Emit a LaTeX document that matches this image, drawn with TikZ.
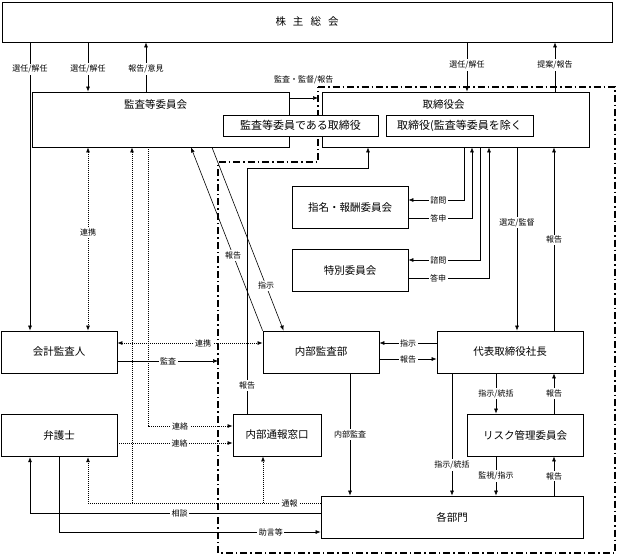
\documentclass[tikz,border=0pt]{standalone}
\usepackage{fontspec}
\setmainfont{Noto Sans CJK JP}
\usetikzlibrary{positioning, arrows.meta, calc}

\begin{document}
\begin{tikzpicture}[x=1pt, y=-1pt,
    >={Latex[length=5pt, width=4pt]},
    every node/.style={font=\fontsize{10.5}{12}\selectfont},
    box/.style={rectangle, draw, line width=0.8pt, fill=white, inner sep=2pt},
    unit/.style={box, minimum width=116pt, minimum height=42pt},
    sbox/.style={box, line width=0.6pt, minimum height=21pt, font=\fontsize{11}{13}\selectfont},
    lbl/.style={fill=white, inner sep=1.5pt, font=\fontsize{8}{9}\selectfont},
    arrow/.style={->, line width=0.6pt},
    dotline/.style={line width=0.7pt, dash pattern=on 1pt off 1pt},
    frame/.style={line width=1.3pt, dash pattern=on 7pt off 3pt on 1.5pt off 3pt}]

  \useasboundingbox (0,0) rectangle (618,555);

  % dash-dot frame round the executive side
  \coordinate (fr1) at (318,87);
  \coordinate (fr2) at (615,87);
  \coordinate (fr3) at (615,553);
  \coordinate (fr4) at (218,553);
  \coordinate (fr5) at (218,162);
  \coordinate (fr6) at (318,162);
  \draw[frame] (fr1) -- (fr2) -- (fr3) -- (fr4) -- (fr5) -- (fr6) -- cycle;

  \node[box, minimum width=610pt, minimum height=40pt] (gm) at (307,22) {株\hspace{7pt}主\hspace{7pt}総\hspace{7pt}会};

  \node[box, minimum width=257pt, minimum height=55pt] (acb) at (160.5,119.5) {};
  \node[below=4pt of acb.north, xshift=-5pt] (acbt) {監査等委員会};
  \node[box, minimum width=267pt, minimum height=55pt] (bod) at (455.5,119.5) {};
  \node[below=5pt of bod.north, xshift=-12pt] (bodt) {取締役会};
  \node[sbox, minimum width=155pt] (sub1) at (300.5,125.5) {監査等委員である取締役};
  \node[sbox, minimum width=147pt] (sub2) at (459.5,125.5) {取締役(監査等委員を除く};

  \node[unit] (nrc) at (350,207.5) {指名・報酬委員会};
  \node[unit, below=20pt of nrc] (sc) {特別委員会};

  \node[unit] (ca) at (59,352) {会計監査人};
  \node[unit, below=41pt of ca] (lawyer) {弁護士};
  \node[unit] (ia) at (321,352) {内部監査部};
  \node[unit, minimum width=146pt] (ceo) at (510,352) {代表取締役社長};
  \node[unit, minimum width=88pt] (hotline) at (277,435) {内部通報窓口};
  \node[unit] (risk) at (525,435) {リスク管理委員会};
  \node[unit, minimum width=262pt] (dept) at (452,517) {各部門};

  \coordinate (j1) at (132,503);
  \coordinate (j2) at (263,503);

  % general meeting
  \draw[arrow] (30,0 |- gm.south) -- node[lbl, pos=0.093] {選任/解任} (30,0 |- ca.north);
  \draw[arrow] (88,0 |- gm.south) -- node[lbl, pos=0.54] {選任/解任} (88,0 |- acb.north);
  \draw[arrow] (146,0 |- acb.north) -- node[lbl, pos=0.46] {報告/意見} (146,0 |- gm.south);
  \draw[arrow] (467,0 |- gm.south) -- node[lbl, pos=0.46] {選任/解任} (467,0 |- bod.north);
  \draw[arrow] (555,0 |- bod.north) -- node[lbl, pos=0.54] {提案/報告} (555,0 |- gm.south);
  \draw[arrow] (acb.east |- 0,98) -- node[lbl, above=12pt] {監査・監督/報告} (fr1 |- 0,98);

  % audit committee
  \draw[dotline, <->] (88,0 |- acb.south) -- node[lbl, pos=0.467] {連携} (88,0 |- ca.north);
  \draw[dotline, ->] (j1) -- (132,0 |- acb.south);
  \draw[dotline, ->] (148,0 |- acb.south) -- (148,426) -- node[lbl, pos=0.38] {連絡} (hotline.west |- 0,426);
  \draw[arrow] (ia.north west) -- node[lbl, pos=0.41] {報告} (191,0 |- acb.south);
  \draw[arrow] (212,0 |- acb.south) -- node[lbl, pos=0.755] {指示} ([xshift=21pt]ia.north west);

  % board
  \draw[arrow] (247,0 |- hotline.north) -- node[lbl, pos=0.114] {報告} (247,168) -- (368,168) -- (368,0 |- bod.south);
  \draw[arrow] (464,0 |- bod.south) -- (464,200) -- node[lbl, pos=0.46] {諮問} (nrc.east |- 0,200);
  \draw[arrow] (nrc.east |- 0,218) -- node[lbl, pos=0.47] {答申} (472,218) -- (472,0 |- bod.south);
  \draw[arrow] (480,0 |- bod.south) -- (480,260) -- node[lbl, pos=0.58] {諮問} (sc.east |- 0,260);
  \draw[arrow] (sc.east |- 0,278) -- node[lbl, pos=0.37] {答申} (489,278) -- (489,0 |- bod.south);
  \draw[arrow] (517,0 |- bod.south) -- node[lbl, pos=0.41] {選定/監督} (517,0 |- ceo.north);
  \draw[arrow] (554,0 |- ceo.north) -- node[lbl, pos=0.495] {報告} (554,0 |- bod.south);

  % accounting auditor
  \draw[dotline, <->] (ca.east |- 0,343) -- node[lbl, pos=0.59] {連携} (ia.west |- 0,343);
  \draw[arrow] (ca.east |- 0,361) -- node[lbl, pos=0.505] {監査} (fr4 |- 0,361);

  % president and departments
  \draw[arrow] (ceo.west |- 0,343) -- node[lbl] {指示} (ia.east |- 0,343);
  \draw[arrow] (ia.east |- 0,359) -- node[lbl] {報告} (ceo.west |- 0,359);
  \draw[arrow] (350,0 |- ia.south) -- node[lbl, pos=0.5] {内部監査} (350,0 |- dept.north);
  \draw[arrow] (452,0 |- ceo.south) -- node[lbl, pos=0.75] {指示/統括} (452,0 |- dept.north);
  \draw[arrow] (496,0 |- ceo.south) -- node[lbl] {指示/統括} (496,0 |- risk.north);
  \draw[arrow] (554,0 |- risk.north) -- node[lbl] {報告} (554,0 |- ceo.south);
  \draw[arrow] (496,0 |- risk.south) -- node[lbl] {監視/指示} (496,0 |- dept.north);
  \draw[arrow] (554,0 |- dept.north) -- node[lbl] {報告} (554,0 |- risk.south);

  % lawyer and whistleblowing
  \draw[dotline, ->] (lawyer.east |- 0,443) -- node[lbl, pos=0.54] {連絡} (hotline.west |- 0,443);
  \draw[dotline, ->] (dept.west |- 0,503) -- node[lbl, pos=0.133] {通報} (88,503) -- (88,0 |- lawyer.south);
  \draw[dotline, ->] (j2) -- (263,0 |- hotline.south);
  \draw[arrow] (dept.west |- 0,513) -- node[lbl, pos=0.485] {相談} (30,513) -- (30,0 |- lawyer.south);
  \draw[arrow] (59,0 |- lawyer.south) -- (59,532) -- node[lbl, pos=0.81] {助言等} (dept.west |- 0,532);
\end{tikzpicture}
\end{document}
